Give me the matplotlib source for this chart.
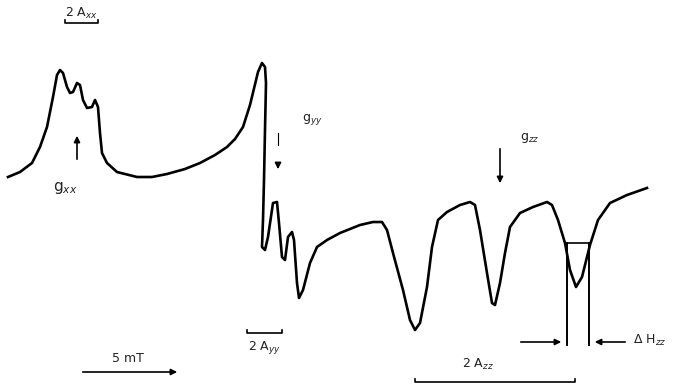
import numpy as np
from matplotlib import pyplot as plt

# Spectrum trace (field position in px, signal in px, y grows downward)
field = [8, 20, 32, 40, 47, 53, 57, 60, 63, 67, 70, 73, 77, 80, 83, 87, 92,
         95, 98, 100, 102, 107, 117, 137, 152, 167, 185, 200, 215, 227,
         235, 243, 250, 258, 262, 265, 266, 265, 264, 263, 262, 265, 268,
         273, 277, 279, 282, 285, 288, 292, 294, 297, 299, 303, 310, 317,
         327, 340, 360, 373, 382, 387, 393, 403, 410, 415, 420, 427, 432,
         438, 447, 460, 470, 475, 480, 487, 492, 495, 500, 505, 510, 520,
         533, 547, 552, 558, 565, 570, 576, 582, 590, 598, 610, 627, 647]
signal = [177, 172, 163, 147, 127, 97, 75, 70, 73, 87, 93, 92, 83, 85, 100,
          108, 107, 100, 107, 133, 153, 163, 172, 177, 177, 174, 169, 163,
          155, 147, 139, 127, 105, 72, 63, 67, 83, 130, 180, 220, 247, 250,
          237, 203, 202, 223, 257, 260, 237, 232, 240, 283, 298, 290, 263,
          247, 240, 233, 225, 222, 222, 230, 253, 290, 320, 330, 323, 287,
          247, 220, 212, 205, 202, 205, 230, 273, 303, 305, 283, 253, 227,
          213, 207, 202, 205, 220, 243, 270, 287, 277, 245, 220, 203, 195,
          188]

# Annotation labels
labels = [r"2 A$_{xx}$", r"g$_{xx}$", r"g$_{yy}$", r"g$_{zz}$", r"2 A$_{yy}$",
          "5 mT", r"2 A$_{zz}$", r"$\Delta$ H$_{zz}$"]

fig = plt.figure(figsize=(6.76, 3.86), dpi=100)
ax = fig.add_axes([0, 0, 1, 1])
ax.set_xlim(0, 676)
ax.set_ylim(386, 0)
ax.axis('off')

ax.plot(field, signal, color='black', lw=1.9, solid_joinstyle='round')

kw = dict(color='#222222', fontsize=9)
arr = dict(arrowstyle='-|>', color='black', lw=1.2, mutation_scale=9)

# 2Axx bracket
ax.text(65, 13, labels[0], ha='left', va='center', **kw)
ax.plot([65, 65, 98, 98], [20, 23, 23, 20], color='black', lw=1.2)

# gxx
ax.annotate('', xy=(77, 133), xytext=(77, 162), arrowprops=arr)
ax.text(53, 188, labels[1], ha='left', va='center', fontsize=11, color='#222222')

# gyy
ax.text(302, 120, labels[2], ha='left', va='center', **kw)
ax.plot([278, 278], [133, 145], color='black', lw=0.8)
ax.annotate('', xy=(278, 172), xytext=(278, 160), arrowprops=arr)

# gzz
ax.text(520, 138, labels[3], ha='left', va='center', **kw)
ax.annotate('', xy=(500, 186), xytext=(500, 146), arrowprops=arr)

# 2Ayy bracket
ax.plot([247, 247, 282, 282], [330, 333, 333, 330], color='black', lw=1.2)
ax.text(248, 347, labels[4], ha='left', va='center', **kw)

# 5 mT scale arrow
ax.annotate('', xy=(180, 372), xytext=(80, 372), arrowprops=arr)
ax.text(128, 359, labels[5], ha='center', va='center', **kw)

# 2Azz bracket
ax.text(462, 364, labels[6], ha='left', va='center', **kw)
ax.plot([415, 415, 575, 575], [379, 382, 382, 379], color='black', lw=1.2)

# Delta Hzz line width marker
ax.plot([567, 589], [243, 243], color='black', lw=1.2)
ax.plot([567, 567], [243, 345], color='black', lw=1.4)
ax.plot([589, 589], [243, 345], color='black', lw=1.4)
ax.annotate('', xy=(564, 342), xytext=(518, 342), arrowprops=arr)
ax.annotate('', xy=(592, 342), xytext=(628, 342), arrowprops=arr)
ax.text(633, 340, labels[7], ha='left', va='center', **kw)

fig.savefig('out.png', dpi=100)
